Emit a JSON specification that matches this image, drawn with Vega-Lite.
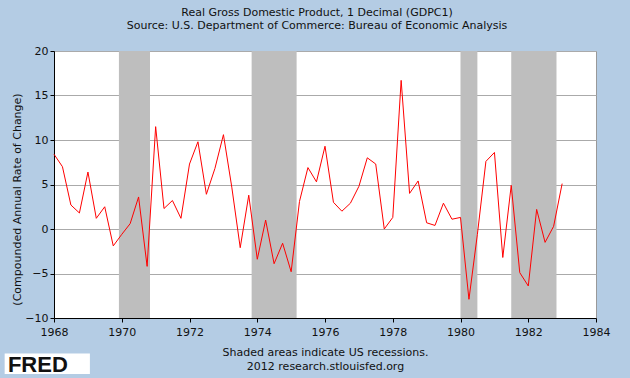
{
  "$schema": "https://vega.github.io/schema/vega-lite/v6.json",
  "autosize": "none",
  "width": 542,
  "height": 267,
  "padding": {"left": 54, "top": 51, "right": 34, "bottom": 60},
  "background": "#B4CCE4",
  "view": {"fill": "white", "stroke": "#999999", "strokeWidth": 1},
  "config": {
    "font": "DejaVu Sans",
    "title": {"fontSize": 11, "fontWeight": "normal", "color": "#111", "subtitleFontSize": 11, "subtitleColor": "#111", "subtitlePadding": 2, "offset": 14, "anchor": "middle", "dx": -8},
    "axis": {"labelFont": "DejaVu Sans", "labelFontSize": 11, "labelColor": "#111", "titleFont": "DejaVu Sans", "titleFontSize": 11, "titleFontWeight": "normal", "titleColor": "#111", "domainColor": "#000", "tickColor": "#000", "tickSize": 4, "labelPadding": 2}
  },
  "title": {"text": "Real Gross Domestic Product, 1 Decimal (GDPC1)", "subtitle": "Source: U.S. Department of Commerce: Bureau of Economic Analysis"},
  "datasets": {
    "gdp": [
      {"date": "1968-01-01", "value": 8.4}, {"date": "1968-04-01", "value": 7.0}, {"date": "1968-07-01", "value": 2.7}, {"date": "1968-10-01", "value": 1.8},
      {"date": "1969-01-01", "value": 6.4}, {"date": "1969-04-01", "value": 1.2}, {"date": "1969-07-01", "value": 2.5}, {"date": "1969-10-01", "value": -1.9},
      {"date": "1970-01-01", "value": -0.6}, {"date": "1970-04-01", "value": 0.6}, {"date": "1970-07-01", "value": 3.6}, {"date": "1970-10-01", "value": -4.2},
      {"date": "1971-01-01", "value": 11.5}, {"date": "1971-04-01", "value": 2.3}, {"date": "1971-07-01", "value": 3.2}, {"date": "1971-10-01", "value": 1.2},
      {"date": "1972-01-01", "value": 7.3}, {"date": "1972-04-01", "value": 9.8}, {"date": "1972-07-01", "value": 3.9}, {"date": "1972-10-01", "value": 6.8},
      {"date": "1973-01-01", "value": 10.6}, {"date": "1973-04-01", "value": 4.7}, {"date": "1973-07-01", "value": -2.1}, {"date": "1973-10-01", "value": 3.8},
      {"date": "1974-01-01", "value": -3.4}, {"date": "1974-04-01", "value": 1.0}, {"date": "1974-07-01", "value": -3.9}, {"date": "1974-10-01", "value": -1.6},
      {"date": "1975-01-01", "value": -4.8}, {"date": "1975-04-01", "value": 3.1}, {"date": "1975-07-01", "value": 6.9}, {"date": "1975-10-01", "value": 5.3},
      {"date": "1976-01-01", "value": 9.3}, {"date": "1976-04-01", "value": 3.0}, {"date": "1976-07-01", "value": 2.0}, {"date": "1976-10-01", "value": 2.9},
      {"date": "1977-01-01", "value": 4.8}, {"date": "1977-04-01", "value": 8.0}, {"date": "1977-07-01", "value": 7.3}, {"date": "1977-10-01", "value": 0.0},
      {"date": "1978-01-01", "value": 1.3}, {"date": "1978-04-01", "value": 16.7}, {"date": "1978-07-01", "value": 4.0}, {"date": "1978-10-01", "value": 5.4},
      {"date": "1979-01-01", "value": 0.7}, {"date": "1979-04-01", "value": 0.4}, {"date": "1979-07-01", "value": 2.9}, {"date": "1979-10-01", "value": 1.1},
      {"date": "1980-01-01", "value": 1.3}, {"date": "1980-04-01", "value": -7.9}, {"date": "1980-07-01", "value": -0.6}, {"date": "1980-10-01", "value": 7.6},
      {"date": "1981-01-01", "value": 8.6}, {"date": "1981-04-01", "value": -3.2}, {"date": "1981-07-01", "value": 4.9}, {"date": "1981-10-01", "value": -4.9},
      {"date": "1982-01-01", "value": -6.4}, {"date": "1982-04-01", "value": 2.2}, {"date": "1982-07-01", "value": -1.5}, {"date": "1982-10-01", "value": 0.3},
      {"date": "1983-01-01", "value": 5.1}
    ],
    "recessions": [
      {"start": "1969-12-01", "end": "1970-11-01"},
      {"start": "1973-11-01", "end": "1975-03-01"},
      {"start": "1980-01-01", "end": "1980-07-01"},
      {"start": "1981-07-01", "end": "1982-11-01"}
    ],
    "logo": [{"label": "FRED"}]
  },
  "layer": [
    {
      "data": {"name": "recessions"},
      "mark": {"type": "rect", "color": "#BEBEBE"},
      "encoding": {
        "x": {"field": "start", "type": "temporal"},
        "x2": {"field": "end"}
      }
    },
    {
      "data": {"name": "gdp"},
      "mark": {"type": "line", "color": "#FF0000", "strokeWidth": 1},
      "encoding": {
        "x": {
          "field": "date", "type": "temporal",
          "scale": {"domain": ["1968-01-01T00:00:00", "1984-01-01T00:00:00"], "nice": false},
          "axis": {
            "grid": false, "format": "%Y", "labelFlush": false, "labelPadding": 4,
            "values": ["1968-01-01T00:00:00", "1970-01-01T00:00:00", "1972-01-01T00:00:00", "1974-01-01T00:00:00", "1976-01-01T00:00:00", "1978-01-01T00:00:00", "1980-01-01T00:00:00", "1982-01-01T00:00:00", "1984-01-01T00:00:00"],
            "title": ["Shaded areas indicate US recessions.", "2012 research.stlouisfed.org"],
            "titlePadding": 9, "titleLineHeight": 14
          }
        },
        "y": {
          "field": "value", "type": "quantitative",
          "scale": {"domain": [-10, 20], "nice": false, "zero": false},
          "axis": {
            "values": [-10, -5, 0, 5, 10, 15, 20],
            "grid": true, "gridColor": "#AAAAAA", "gridWidth": 1,
            "title": "(Compounded Annual Rate of Change)",
            "titleY": 148, "titlePadding": 2
          }
        }
      }
    },
    {
      "data": {"name": "logo"},
      "mark": {"type": "rect", "color": "white", "clip": false},
      "encoding": {
        "x": {"datum": {"year": 1966, "month": 7, "date": 18}, "type": "temporal"},
        "x2": {"datum": {"year": 1969, "month": 1, "date": 22}},
        "y": {"datum": -14.0, "type": "quantitative"},
        "y2": {"datum": -16.3}
      }
    },
    {
      "data": {"name": "logo"},
      "mark": {"type": "text", "clip": false, "font": "Liberation Sans", "fontWeight": "bold", "fontSize": 22, "color": "#111", "align": "left", "baseline": "alphabetic"},
      "encoding": {
        "x": {"datum": {"year": 1966, "month": 8, "date": 22}, "type": "temporal"},
        "y": {"datum": -16.1, "type": "quantitative"},
        "text": {"field": "label"}
      }
    }
  ]
}
